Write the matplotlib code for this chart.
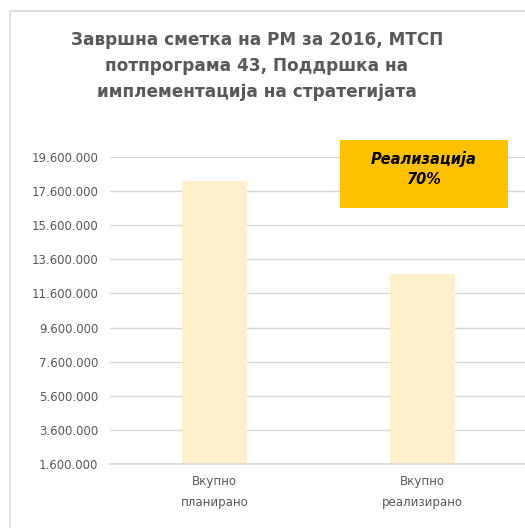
import matplotlib.pyplot as plt
from matplotlib.patches import Rectangle
from matplotlib.ticker import FuncFormatter

# Data
categories = ["Вкупно\nпланирано", "Вкупно\nреализирано"]
values = [18180000, 12730000]
yticks = [1600000 + 2000000 * i for i in range(10)]
title = "Завршна сметка на РМ за 2016, МТСП\nпотпрограма 43, Поддршка на\nимплементација на стратегијата"
badge = "Реализација\n70%"

TEXT = "#595959"
GRID = "#d9d9d9"

fig = plt.figure(figsize=(5.25, 5.28), dpi=100)

# chart border (Excel chart area)
fig.patches.append(Rectangle((10 / 525, -0.2), 1.2, 1 - 11 / 528 + 0.2,
                             transform=fig.transFigure, fill=False,
                             edgecolor=GRID, linewidth=1.2))

ax = fig.add_axes([110 / 525, 1 - 464 / 528, 417 / 525, 307 / 528])
ax.bar(range(len(values)), values, width=0.313, color="#FFF0CC", zorder=2)
ax.set_xlim(-0.5, 1.5)
ax.set_ylim(yticks[0], yticks[-1])
ax.set_yticks(yticks)
ax.yaxis.set_major_formatter(FuncFormatter(lambda v, p: f"{int(v):,}".replace(",", ".")))
ax.set_xticks(range(len(categories)))
ax.set_xticklabels(categories, color=TEXT, fontsize=8.5, linespacing=1.75)
ax.tick_params(axis="y", length=0, pad=8.5, labelcolor=TEXT, labelsize=8.5)
ax.tick_params(axis="x", length=0, pad=8)
ax.grid(axis="y", color=GRID, linewidth=1, zorder=0)
for s in ["top", "right", "left"]:
    ax.spines[s].set_visible(False)
ax.spines["bottom"].set_color(GRID)
ax.spines["bottom"].set_linewidth(1.2)
ax.spines["bottom"].set_zorder(3)

fig.text(257 / 525, 1 - 66 / 528, title, ha="center", va="center",
         fontsize=12.2, fontweight="bold", color=TEXT, linespacing=1.6)

# realization badge
fig.patches.append(Rectangle((340 / 525, 1 - 208 / 528), 168 / 525, 68 / 528,
                             transform=fig.transFigure, facecolor="#FFC000",
                             edgecolor="none", zorder=5))
fig.text(424 / 525, 1 - 169 / 528, badge, ha="center", va="center",
         fontsize=10.5, fontweight="bold", fontstyle="italic", color="black",
         linespacing=1.45, zorder=6)

fig.savefig("out.png", dpi=100)
